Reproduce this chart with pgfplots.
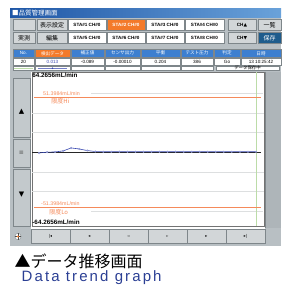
\documentclass[border=0pt]{standalone}
\usepackage{pgfplots}
\pgfplotsset{compat=1.18}
\usepackage{fontspec}
\setmainfont{Liberation Sans}
\newfontfamily\jp{Noto Sans CJK JP}
\newfontfamily\dv{DejaVu Sans}
\newfontfamily\capfont[LetterSpace=14]{Liberation Sans}
\definecolor{scrgrey}{HTML}{B8BFC3}
\definecolor{sidegrey}{HTML}{AEB5B9}
\definecolor{btngrey}{HTML}{D2D6D8}
\definecolor{bordc}{HTML}{7E868A}
\definecolor{actor}{HTML}{F47A2A}
\definecolor{hdrblue}{HTML}{3D7FD0}
\definecolor{savebl}{HTML}{1E5C8C}
\definecolor{limor}{HTML}{F58A5A}
\definecolor{datab}{HTML}{3848B0}
\definecolor{capblue}{HTML}{2B3F94}
\definecolor{gridg}{HTML}{DDDFE0}
\definecolor{greenl}{HTML}{BCDCA8}
\definecolor{titleA}{HTML}{1E56A6}
\definecolor{titleB}{HTML}{6AA2DA}
\newcommand{\ui}{\fontsize{4.6}{5}\selectfont}
\newcommand{\bx}[7]{\draw[draw=bordc, fill=#5, line width=0.4pt] (#1,#2) rectangle (#3,#4);
  \node[text=#6, inner sep=0pt, font=\ui] at ({(#1+#3)/2},{(#2+#4)/2}) {#7};}
\begin{document}
\begin{tikzpicture}
\useasboundingbox (0pt,0pt) rectangle (281pt,-297pt);
\begin{scope}[x=1pt,y=-1pt]
% screen frame
\fill[scrgrey] (10,8) rectangle (281,246);
\shade[left color=titleA, right color=titleB] (10,8) rectangle (281,17);
\node[anchor=west, inner sep=0pt, text=white, font=\jp\fontsize{6.5}{6.5}\selectfont] at (12,12.8) {■品質管理画面};
% row 1
\bx{13}{19}{35}{30.5}{btngrey}{black}{}
\bx{37}{19}{67}{30.5}{btngrey}{black}{\jp\fontsize{6}{6}\selectfont 表示設定}
\bx{68}{19}{106}{30.5}{white}{black}{\bfseries STA\#1 CH\#0}
\bx{107}{19}{145}{30.5}{actor}{white}{\bfseries STA\#2 CH\#0}
\bx{146}{19}{184}{30.5}{white}{black}{\bfseries STA\#3 CH\#0}
\bx{185}{19}{224}{30.5}{white}{black}{\bfseries STA\#4 CH\#0}
\bx{228}{19}{256}{30.5}{btngrey}{black}{\bfseries CH{\dv▲}}
\bx{258}{19}{281}{30.5}{btngrey}{black}{\jp\fontsize{6}{6}\selectfont 一覧}
% row 2
\bx{13}{32}{35}{43.5}{btngrey}{black}{\jp\fontsize{6}{6}\selectfont 実測}
\bx{37}{32}{67}{43.5}{btngrey}{black}{\jp\fontsize{6}{6}\selectfont 編集}
\bx{68}{32}{106}{43.5}{white}{black}{\bfseries STA\#5 CH\#0}
\bx{107}{32}{145}{43.5}{white}{black}{\bfseries STA\#6 CH\#0}
\bx{146}{32}{184}{43.5}{white}{black}{\bfseries STA\#7 CH\#0}
\bx{185}{32}{224}{43.5}{white}{black}{\bfseries STA\#8 CH\#0}
\bx{228}{32}{256}{43.5}{btngrey}{black}{\bfseries CH{\dv▼}}
\bx{258}{32}{281}{43.5}{savebl}{white}{\jp\fontsize{6}{6}\selectfont 保存}
% table header
\bx{13}{49}{34}{57.5}{hdrblue}{white}{No.}
\bx{35}{49}{70}{57.5}{actor}{white}{\jp 検出データ}
\bx{71}{49}{104}{57.5}{hdrblue}{white}{\jp 補正値}
\bx{105}{49}{140}{57.5}{hdrblue}{white}{\jp センサ出力}
\bx{141}{49}{180}{57.5}{hdrblue}{white}{\jp 平衡}
\bx{181}{49}{213}{57.5}{hdrblue}{white}{\jp テスト圧力}
\bx{214}{49}{240}{57.5}{hdrblue}{white}{\jp 判定}
\bx{241}{49}{281}{57.5}{hdrblue}{white}{\jp 日時}
% data row
\bx{13}{58}{34}{65}{white}{black}{20}
\bx{35}{58}{70}{65}{white}{datab}{0.013}
\bx{71}{58}{104}{65}{white}{black}{-0.089}
\bx{105}{58}{140}{65}{white}{black}{-0.00010}
\bx{141}{58}{180}{65}{white}{black}{0.204}
\bx{181}{58}{213}{65}{white}{black}{386}
\bx{214}{58}{240}{65}{white}{black}{Go}
\bx{241}{58}{281}{65}{white}{black}{13 10:25:42}
% third row
\bx{13}{66}{34}{70.5}{white}{black}{}
\draw[greenl, line width=0.8pt] (14,68.2) -- (33,68.2);
\bx{35}{66}{70}{70.5}{white}{black}{}
\draw[datab!70, line width=1pt] (38,68.2) -- (67,68.2);
\fill[datab] (52.5,68.2) circle (0.9);
\bx{71}{66}{104}{70.5}{white}{black}{}
\bx{105}{66}{140}{70.5}{white}{black}{}
\bx{141}{66}{180}{70.5}{white}{black}{}
\bx{181}{66}{213}{70.5}{white}{black}{}
\bx{216}{66}{279}{70.5}{white}{black}{\jp\fontsize{4.4}{5}\selectfont データ保存中}
% chart background
\fill[white] (31,71.5) rectangle (265,228);
% right column
\fill[sidegrey] (265,71.5) rectangle (281,228);
\draw[bordc, line width=0.5pt] (265,71.5) -- (265,228);
% left sidebar
\draw[draw=bordc, fill=scrgrey!85!white] (13,78) rectangle (30,137);
\draw[draw=bordc, fill=scrgrey!85!white] (13,139) rectangle (30,167);
\draw[draw=bordc, fill=scrgrey!85!white] (13,169) rectangle (30,226);
\node[font=\dv\fontsize{7}{7}\selectfont, inner sep=0pt] at (21.5,112) {▲};
\node[font=\dv\fontsize{6}{6}\selectfont, text=black!70, inner sep=0pt] at (21.5,153) {≡};
\node[font=\dv\fontsize{7}{7}\selectfont, inner sep=0pt] at (21.5,195) {▼};
% bottom nav
\fill[white] (31,226) rectangle (265,229);
\bx{31}{229}{70}{243.5}{btngrey}{black}{\dv\fontsize{4}{4}\selectfont |◂}
\bx{70}{229}{109}{243.5}{btngrey}{black}{\dv\fontsize{4}{4}\selectfont ◂}
\bx{109}{229}{148}{243.5}{btngrey}{black}{\dv\fontsize{4}{4}\selectfont ◃}
\bx{148}{229}{187}{243.5}{btngrey}{black}{\dv\fontsize{4}{4}\selectfont ▹}
\bx{187}{229}{226}{243.5}{btngrey}{black}{\dv\fontsize{4}{4}\selectfont ▸}
\bx{226}{229}{265}{243.5}{btngrey}{black}{\dv\fontsize{4}{4}\selectfont ▸|}
\draw[bordc, fill=white] (18,236.5) circle (3.2);
\draw[black!70, line width=0.5pt] (14.8,236.5) -- (21.2,236.5) (18,233.3) -- (18,239.7);
\fill[actor] (18,236.5) circle (1.1);
% caption
\node[anchor=west, inner sep=0pt, font=\jp\fontsize{16}{16}\selectfont] at (14.5,261.5) {▲データ推移画面};
\node[anchor=base west, inner sep=0pt, text=capblue, font=\capfont\fontsize{15}{15}\selectfont] at (21.5,281.7) {Data trend graph};
\end{scope}
\begin{axis}[
  at={(32pt,-226pt)}, anchor=south west,
  width=232pt, height=154pt, scale only axis,
  xmin=-0.875, xmax=28, ymin=-68.3, ymax=74.8,
  xtick=\empty, ytick=\empty,
  axis line style={draw=black!55, line width=0.6pt},
  clip=false,
]
% grid lines
\foreach \v in {18.31,36.62,-18.31,-36.62} {
  \edef\tmp{\noexpand\draw[gridg, line width=0.9pt] (axis cs:-0.875,\v) -- (axis cs:28,\v);}\tmp
}
\draw[gridg, line width=0.9pt] (axis cs:6.5,54.93) -- (axis cs:27.9,54.93);
\draw[gridg, line width=0.9pt] (axis cs:6.5,-54.93) -- (axis cs:27.9,-54.93);
% green marker line
\addplot[greenl, line width=0.7pt] coordinates {(27,-68.3) (27,74.8)};
% limit lines
\addplot[limor, line width=0.8pt] coordinates {(-0.625,51.3984) (27.6,51.3984)};
\addplot[limor, line width=0.8pt] coordinates {(-0.625,-51.3984) (27.6,-51.3984)};
% zero line
\addplot[black!85, line width=0.9pt] coordinates {(-0.875,0) (27.6,0)};
% data
\addplot[datab, line width=0.6pt, mark=*, mark size=0.7pt, mark options={fill=datab!55, draw=datab!55}] coordinates {
(0,-0.4) (1,0.3) (2,0.5) (3,1.5) (4,4.2) (5,3.3) (6,1.8) (7,0.9) (8,0.7) (9,0.7)
(10,0.7) (11,0.7) (12,0.7) (13,0.7) (14,0.7) (15,0.7) (16,0.7) (17,0.7) (18,0.7) (19,0.7)
(20,0.7) (21,0.7) (22,0.7) (23,0.7) (24,0.7) (25,0.7) (26,0.7) (27,0.7)};
% labels
\node[anchor=west, inner sep=0pt, font=\bfseries\fontsize{6.3}{7}\selectfont] at (axis cs:-0.85,71.6) {64.2656mL/min};
\node[anchor=west, inner sep=0pt, text=limor, font=\fontsize{5.3}{5.5}\selectfont] at (axis cs:0.5,54.8) {51.3984mL/min};
\node[anchor=west, inner sep=0pt, text=limor, font=\jp\fontsize{6}{6}\selectfont] at (axis cs:1.5,47.6) {限度Hi};
\node[anchor=west, inner sep=0pt, text=limor, font=\fontsize{5.3}{5.5}\selectfont] at (axis cs:0.25,-47.6) {-51.3984mL/min};
\node[anchor=west, inner sep=0pt, text=limor, font=\jp\fontsize{6}{6}\selectfont] at (axis cs:1.25,-55.3) {限度Lo};
\node[anchor=west, inner sep=0pt, font=\bfseries\fontsize{6.3}{7}\selectfont] at (axis cs:-0.85,-64.6) {-64.2656mL/min};
\end{axis}
\end{tikzpicture}
\end{document}
